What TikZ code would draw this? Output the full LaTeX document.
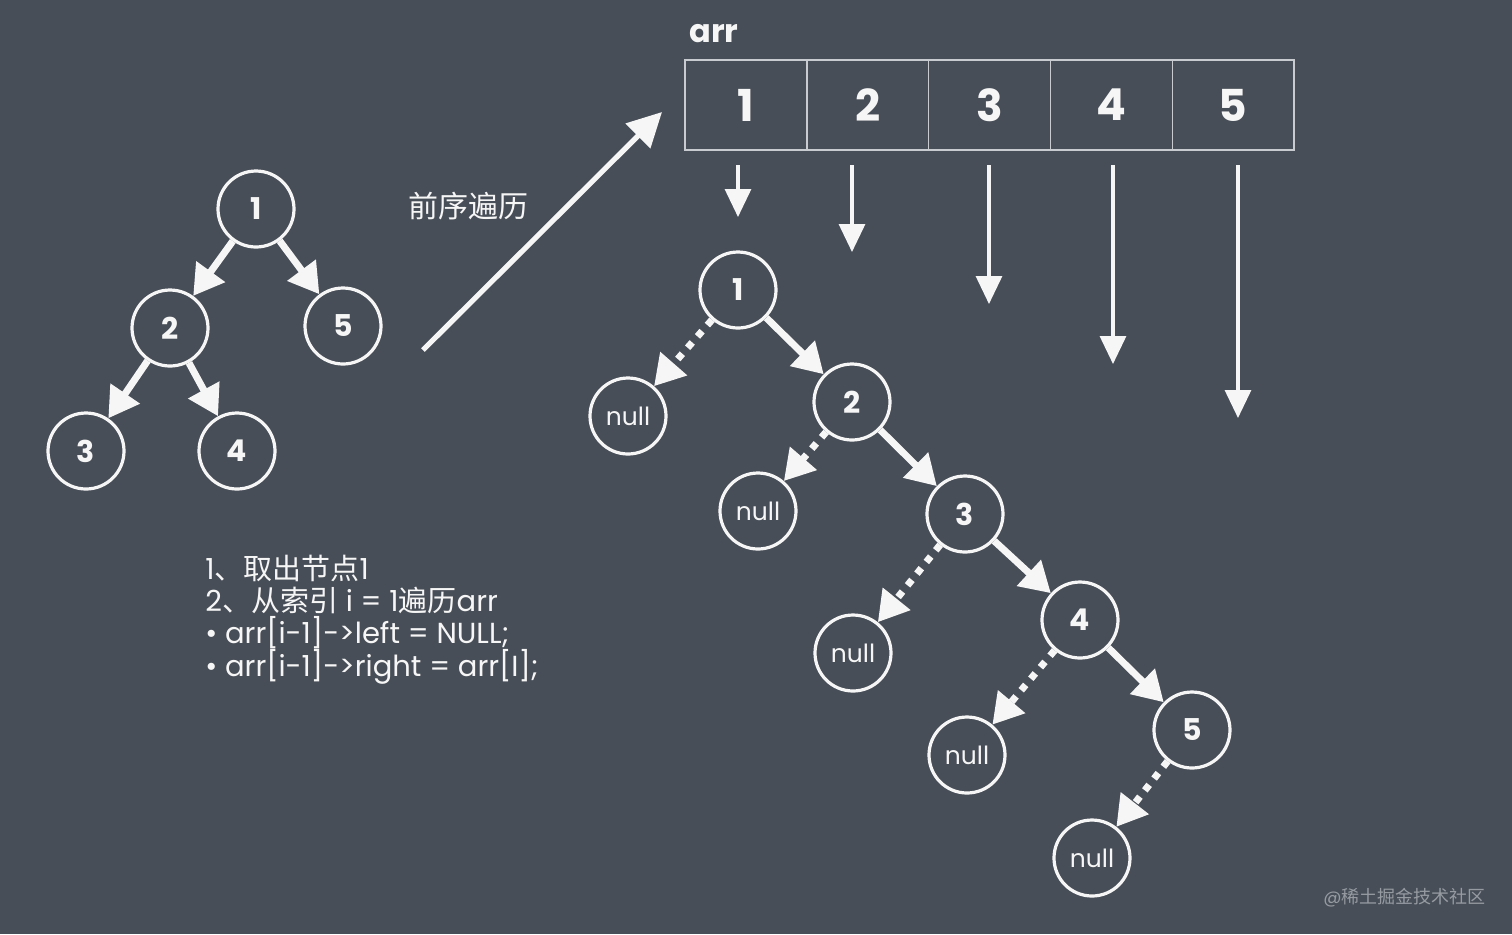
\documentclass[tikz,border=0pt]{standalone}
\usepackage{fontspec}
\setmainfont{Poppins}
\newfontfamily\cjk{Noto Sans CJK SC}
\usetikzlibrary{arrows.meta}
\definecolor{board}{RGB}{72,78,87}
\definecolor{chalk}{RGB}{246,246,246}
\definecolor{cellline}{RGB}{200,203,208}
\definecolor{wmark}{RGB}{150,155,162}
\begin{document}
\begin{tikzpicture}[x=0.5pt,y=-0.5pt,
  circ/.style={circle,draw=chalk,line width=1.6pt,minimum size=38pt,inner sep=0pt,text=chalk},
  dig/.style={font=\fontsize{15}{15}\selectfont\bfseries},
  nul/.style={font=\fontsize{12.5}{12.5}\selectfont},
  solidarrow/.style={draw=chalk,line width=3.5pt,-{Triangle[length=15pt,width=17pt]}},
  dotarrow/.style={draw=chalk,line width=3.5pt,dash pattern=on 3.5pt off 4pt,-{Triangle[length=15pt,width=17pt]}},
  vertarrow/.style={draw=chalk,line width=1.6pt,-{Triangle[length=14pt,width=13pt]}},
  bigarrow/.style={draw=chalk,line width=2.6pt,-{Triangle[length=17pt,width=17pt]}},
  cell/.style={draw=cellline,line width=0.7pt,minimum width=60.9pt,minimum height=45pt,inner sep=0pt,text=chalk,font=\fontsize{22}{22}\selectfont\bfseries},
  txt/.style={text=chalk,inner sep=0pt,anchor=base west,font=\fontsize{14.5}{16}\selectfont},
]
% background
\fill[board] (0,0) rectangle (1512,934);
\useasboundingbox (0,0) rectangle (1512,934);

% ---------- left tree ----------
\node[circ,dig] (L1) at (256,209) {1};
\node[circ,dig] (L2) at (170,328) {2};
\node[circ,dig] (L5) at (343,326) {5};
\node[circ,dig] (L3) at (86,451) {3};
\node[circ,dig] (L4) at (237,451) {4};
\draw[solidarrow] (L1) -- (L2);
\draw[solidarrow] (L1) -- (L5);
\draw[solidarrow] (L2) -- (L3);
\draw[solidarrow] (L2) -- (L4);

% ---------- big arrow ----------
\coordinate (bs) at (423,350);
\coordinate (be) at (662,112);
\draw[bigarrow] (bs) -- (be);
\node[text=chalk,font=\cjk\fontsize{15}{15}\selectfont] (pre) at (468,206) {前序遍历};

% ---------- array ----------
\node[text=chalk,font=\fontsize{16}{16}\selectfont\bfseries,anchor=west,inner sep=0pt] (arr) at (689,34) {arr};
\node[cell] (c1) at (745.9,105) {1};
\node[cell] (c2) at (867.7,105) {2};
\node[cell] (c3) at (989.5,105) {3};
\node[cell] (c4) at (1111.3,105) {4};
\node[cell] (c5) at (1233.1,105) {5};

\coordinate (s1) at (738,165);  \coordinate (e1) at (738,217);
\coordinate (s2) at (852,165);  \coordinate (e2) at (852,252);
\coordinate (s3) at (989,165);  \coordinate (e3) at (989,304);
\coordinate (s4) at (1113,165); \coordinate (e4) at (1113,364);
\coordinate (s5) at (1238,165); \coordinate (e5) at (1238,418);
\draw[vertarrow] (s1) -- (e1);
\draw[vertarrow] (s2) -- (e2);
\draw[vertarrow] (s3) -- (e3);
\draw[vertarrow] (s4) -- (e4);
\draw[vertarrow] (s5) -- (e5);

% ---------- right tree ----------
\node[circ,dig] (R1) at (738,290) {1};
\node[circ,dig] (R2) at (852,402) {2};
\node[circ,dig] (R3) at (965,514) {3};
\node[circ,dig] (R4) at (1080,620) {4};
\node[circ,dig] (R5) at (1192,730) {5};
\node[circ,nul] (N1) at (628,416) {null};
\node[circ,nul] (N2) at (758,511) {null};
\node[circ,nul] (N3) at (853,653) {null};
\node[circ,nul] (N4) at (967,755) {null};
\node[circ,nul] (N5) at (1092,858) {null};
\draw[solidarrow] (R1) -- (R2);
\draw[solidarrow] (R2) -- (R3);
\draw[solidarrow] (R3) -- (R4);
\draw[solidarrow] (R4) -- (R5);
\draw[dotarrow] (R1) -- (N1);
\draw[dotarrow] (R2) -- (N2);
\draw[dotarrow] (R3) -- (N3);
\draw[dotarrow] (R4) -- (N4);
\draw[dotarrow] (R5) -- (N5);

% ---------- text block ----------
\node[txt] (t1) at (205,579) {1{\cjk 、取出节点}1};
\node[txt] (t2) at (205,611) {2{\cjk 、从索引} i = 1{\cjk 遍历}arr};
\node[txt] (t3) at (205,643) {• arr[i-1]->left = NULL;};
\node[txt] (t4) at (205,676) {• arr[i-1]->right = arr[I];};

% ---------- watermark ----------
\node[text=wmark,inner sep=0pt,anchor=base east,font=\fontsize{9}{9}\selectfont] (wm) at (1486,903) {@{\cjk 稀土掘金技术社区}};
\end{tikzpicture}
\end{document}
